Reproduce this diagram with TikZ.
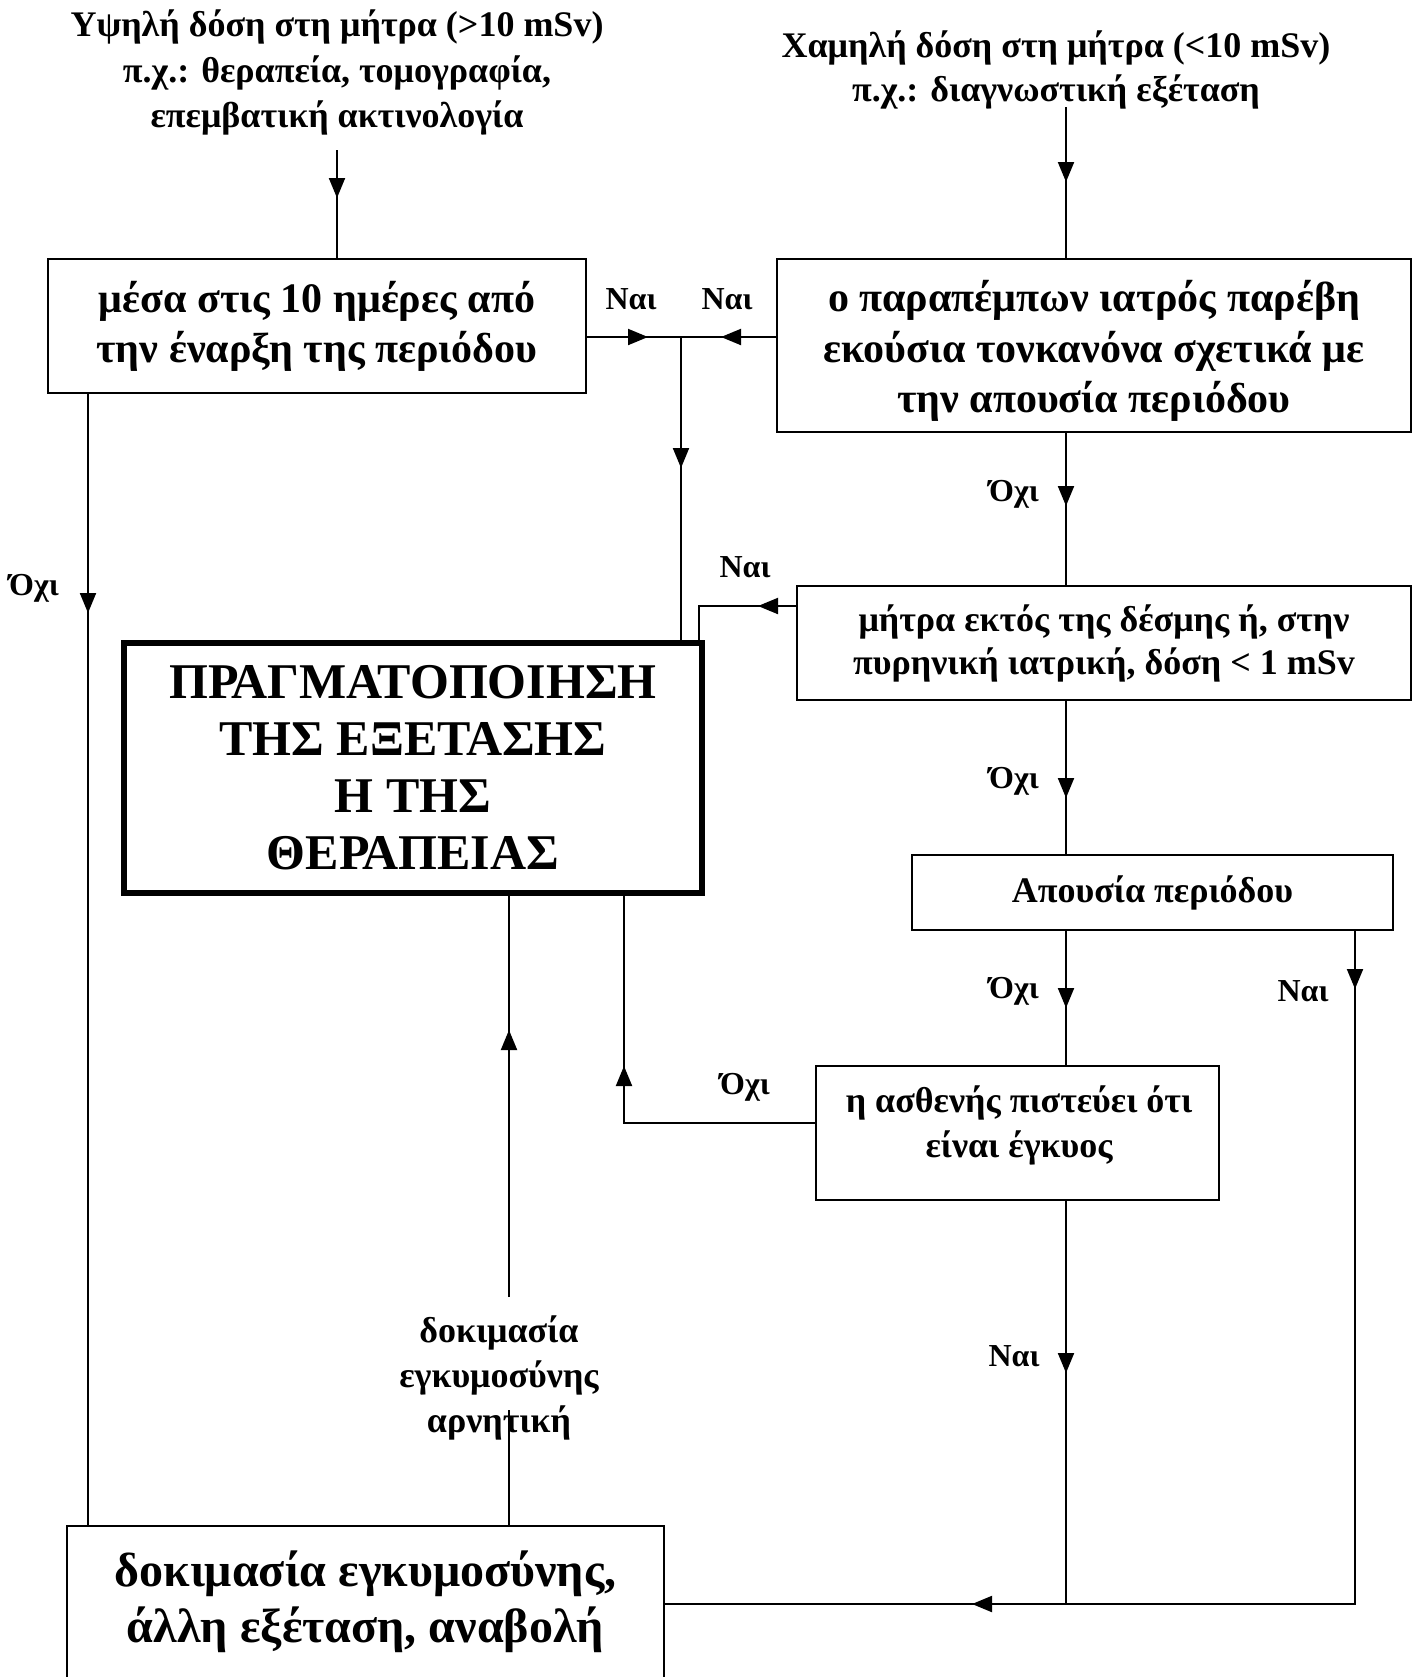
\documentclass[tikz,border=0pt]{standalone}
\usepackage{fontspec}
\setmainfont{Liberation Serif}
\usetikzlibrary{arrows.meta,decorations.markings}
\tikzset{
  box/.style={draw, line width=1pt, align=center, inner sep=0pt,
    font=\bfseries\fontsize{21}{25}\selectfont},
  smallbox/.style={box, font=\bfseries\fontsize{18}{21.5}\selectfont},
  bigbox/.style={draw, line width=3pt, align=center, inner sep=0pt,
    font=\bfseries\fontsize{25}{28.5}\selectfont},
  bottombox/.style={align=center, inner sep=0pt,
    font=\bfseries\fontsize{24}{28}\selectfont},
  boxtext/.style={align=center, inner sep=0pt,
    font=\bfseries\fontsize{21}{25.3}\selectfont},
  toptext/.style={align=center, inner sep=0pt,
    font=\bfseries\fontsize{18}{22.7}\selectfont},
  midtext/.style={align=center, inner sep=0pt,
    font=\bfseries\fontsize{18}{22.5}\selectfont},
  lbl/.style={inner sep=0pt, font=\bfseries\fontsize{16}{19}\selectfont},
  tipa/.tip={Triangle[length=10pt,width=8pt]},
  arrowat/.style={postaction={decorate},
    decoration={markings, mark=at position #1 with {\arrow{tipa}}}},
  arrowattwo/.style 2 args={postaction={decorate},
    decoration={markings, mark=at position #1 with {\arrow{tipa}},
      mark=at position #2 with {\arrow{tipa}}}},
}
\begin{document}
\begin{tikzpicture}[x=0.5pt,y=-0.5pt,line width=1pt]
\useasboundingbox (0,0) rectangle (1422,1677);
\clip (0,0) rectangle (1422,1677);

% top texts
\node[toptext] (t1) at (337,72.5) {Υψηλή δόση στη μήτρα (>10 mSv)\\π.χ.: θεραπεία, τομογραφία,\\επεμβατική ακτινολογία};
\node[toptext, font=\bfseries\fontsize{18}{22}\selectfont] (t2) at (1056,70) {Χαμηλή δόση στη μήτρα (<10 mSv)\\π.χ.: διαγνωστική εξέταση};

% boxes
\node[box, minimum width=269pt, minimum height=67pt] (b1) at (317,326) {μέσα στις 10 ημέρες από\\την έναρξη της περιόδου};
\node[box, minimum width=317pt, minimum height=86.5pt] (b2) at (1094,345.5) {};
\node[boxtext] (b2t) at (1094,351) {ο παραπέμπων ιατρός παρέβη\\εκούσια τονκανόνα σχετικά με\\την απουσία περιόδου};
\node[smallbox, minimum width=307pt, minimum height=57pt] (b3) at (1104,643) {μήτρα εκτός της δέσμης ή, στην\\πυρηνική ιατρική, δόση < 1 mSv};
\node[bigbox, minimum width=289pt, minimum height=125pt] (big) at (413,768) {ΠΡΑΓΜΑΤΟΠΟΙΗΣΗ\\ΤΗΣ ΕΞΕΤΑΣΗΣ\\Η ΤΗΣ\\ΘΕΡΑΠΕΙΑΣ};
\node[smallbox, minimum width=240.5pt, minimum height=37.5pt] (b4) at (1152.5,892.5) {Απουσία περιόδου};
\node[smallbox, minimum width=201.5pt, minimum height=67pt] (b5) at (1017.5,1133) {};
\node[midtext] (b5t) at (1019,1125) {η ασθενής πιστεύει ότι\\είναι έγκυος};
\node[bottombox, minimum width=297.5pt, minimum height=75pt] (b6) at (365.5,1602) {δοκιμασία εγκυμοσύνης,\\άλλη εξέταση, αναβολή};
\draw (b6.south west) -- (b6.north west) -- (b6.north east) -- (b6.south east);
\node[midtext] (neg) at (499,1378) {δοκιμασία\\εγκυμοσύνης\\αρνητική};

% labels
\node[lbl] (l1) at (631,299) {Ναι};
\node[lbl] (l2) at (727,299) {Ναι};
\node[lbl] (l3) at (1014,494) {Όχι};
\node[lbl] (l4) at (745,567) {Ναι};
\node[lbl] (l5) at (34,588) {Όχι};
\node[lbl] (l6) at (1014,781) {Όχι};
\node[lbl] (l7) at (1014,991) {Όχι};
\node[lbl] (l8) at (1303,991) {Ναι};
\node[lbl] (l9) at (745,1087) {Όχι};
\node[lbl] (l10) at (1014,1356) {Ναι};

% coordinates
\coordinate (s1) at (337,150);
\coordinate (s2) at (1066,107);
\coordinate (J) at (681,337);
\coordinate (K) at (699,606);
\coordinate (L) at (1355,1604);
\coordinate (M) at (624,1123);
\coordinate (N) at (509,1297);
\coordinate (N2) at (509,1410);
\coordinate (P) at (88,612);

% connectors
\draw[arrowat=24pt] (s1) -- (s1 |- b1.north);
\draw[arrowat=37.5pt] (s2) -- (s2 |- b2.north);
\draw[arrowat=30.5pt] (b1.east |- J) -- (J);
\draw[arrowat=27.5pt] (b2.west |- J) -- (J);
\draw[arrowat=65.5pt] (J) -- (J |- big.north);
\draw[arrowat=36.5pt] (s2 |- b2.south) -- (s2 |- b3.north);
\draw[arrowat=19pt] (b3.west |- K) -- (K) -- (K |- big.north);
\draw[arrowat=48.5pt] (s2 |- b3.south) -- (s2 |- b4.north);
\draw[arrowat=38.5pt] (s2 |- b4.south) -- (s2 |- b5.north);
\draw[arrowattwo={29pt}{528pt}] (L |- b4.south) -- (L) -- (L -| b6.east);
\draw[arrowat=86pt] (s2 |- b5.south) -- (s2 |- L);
\draw[arrowat=124pt] (b5.west |- M) -- (M) -- (M |- big.south);
\draw (N2 |- b6.north) -- (N2);
\draw[arrowat=133.5pt] (N) -- (N |- big.south);
\draw[arrowat=109.5pt] (P |- b1.south) -- (P |- b6.north);
\end{tikzpicture}
\end{document}
